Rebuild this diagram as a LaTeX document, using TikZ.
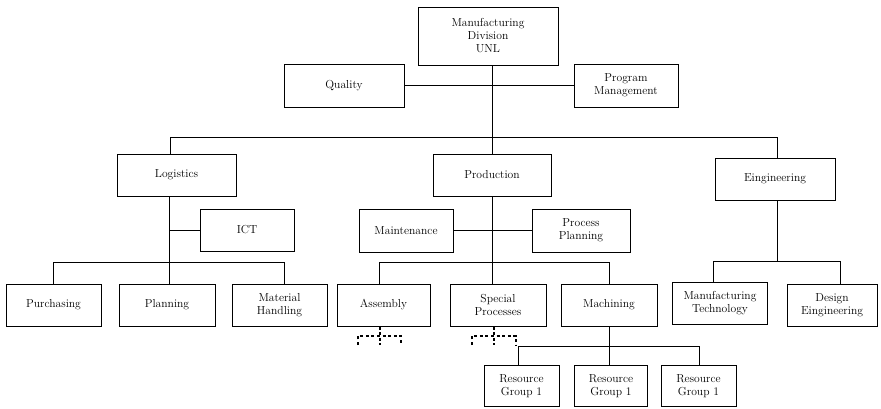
\documentclass[tikz,border=0pt]{standalone}
\begin{document}
\begin{tikzpicture}[x=1pt,y=-1pt,
  box/.style={draw,line width=1pt,align=center,inner sep=1pt,
    font=\fontsize{11.6}{13}\selectfont},
  link/.style={line width=1pt},
  stub/.style={line width=1.6pt,dash pattern=on 3pt off 2.6pt}]
\useasboundingbox (0,0) rectangle (881,408);

% top level
\node[box,minimum width=140,minimum height=58] (md) at (488,36) {Manufacturing\\Division\\UNL};
\node[box,minimum width=120,minimum height=43] (quality) at (344,85.5) {Quality};
\node[box,minimum width=104,minimum height=43] (progmgmt) at (626,85.5) {Program\\Management};

% departments
\node[box,minimum width=119,minimum height=42] (logistics) at (176.5,175) {Logistics};
\node[box,minimum width=118,minimum height=42] (production) at (492,175) {Production};
\node[box,minimum width=120,minimum height=42] (eng) at (775,179) {Eingineering};

% staff units
\node[box,minimum width=94,minimum height=42] (ict) at (247,230) {ICT};
\node[box,minimum width=94,minimum height=43] (maint) at (406,230.5) {Maintenance};
\node[box,minimum width=98,minimum height=43] (procplan) at (581,230.5) {Process\\Planning};

% groups
\node[box,minimum width=95,minimum height=42] (purch) at (53.5,305) {Purchasing};
\node[box,minimum width=96,minimum height=42] (planning) at (167,305) {Planning};
\node[box,minimum width=95,minimum height=42] (mathand) at (279.5,305) {Material\\Handling};
\node[box,minimum width=93,minimum height=42] (assembly) at (383.5,305) {Assembly};
\node[box,minimum width=96,minimum height=42] (special) at (498,305) {Special\\Processes};
\node[box,minimum width=96,minimum height=42] (machining) at (609,305) {Machining};
\node[box,minimum width=95,minimum height=42] (mantech) at (720,303.5) {Manufacturing\\Technology};
\node[box,minimum width=90,minimum height=42] (design) at (832,305) {Design\\Eingineering};

% resource groups
\node[box,minimum width=75,minimum height=41] (rg1) at (521.5,386) {Resource\\Group 1};
\node[box,minimum width=73,minimum height=41] (rg2) at (611,386) {Resource\\Group 1};
\node[box,minimum width=75,minimum height=41] (rg3) at (698.5,386) {Resource\\Group 1};

% column and row positions of the connector lines
\coordinate (trunk) at (492,0);
\coordinate (colL) at (169,0);
\coordinate (colE) at (777,0);
\coordinate (busTop) at (0,137);
\coordinate (busLog) at (0,262);
\coordinate (busEng) at (0,261);
\coordinate (busMach) at (0,346);

% main trunk with staff functions
\draw[link] (md.south -| trunk) -- (production.north -| trunk);
\draw[link] (quality.east) -- (progmgmt.west);

% bus to the three departments
\draw[link] (logistics.north -| 170,0) -- (170,137) -- (busTop -| colE) -- (eng.north -| colE);

% logistics
\draw[link] (logistics.south -| colL) -- (planning.north -| colL);
\draw[link] (ict.west -| colL) -- (ict.west);
\draw[link] (purch.north -| 53,0) -- (busLog -| 53,0) -- (busLog -| 284,0) -- (mathand.north -| 284,0);

% production
\draw[link] (production.south -| trunk) -- (special.north -| trunk);
\draw[link] (maint.east) -- (procplan.west);
\draw[link] (assembly.north -| 379,0) -- (busLog -| 379,0) -- (busLog -| machining) -- (machining.north);

% engineering
\draw[link] (eng.south -| colE) -- (busEng -| colE);
\draw[link] (mantech.north -| 713,0) -- (busEng -| 713,0) -- (busEng -| 840,0) -- (design.north -| 840,0);

% machining resource groups
\draw[link] (machining.south) -- (rg2.north -| machining);
\draw[link] (rg1.north -| 518,0) -- (busMach -| 518,0) -- (busMach -| 699,0) -- (rg3.north -| 699,0);

% open-ended branches below assembly and special processes
\draw[stub] (assembly.south -| 380,0) -- (380,345);
\draw[stub] (358,345) -- (358,336) -- (401,336) -- (401,345);
\draw[stub] (special.south -| 494,0) -- (494,345);
\draw[stub] (472,345) -- (472,336) -- (516,336) -- (516,345);
\end{tikzpicture}
\end{document}
